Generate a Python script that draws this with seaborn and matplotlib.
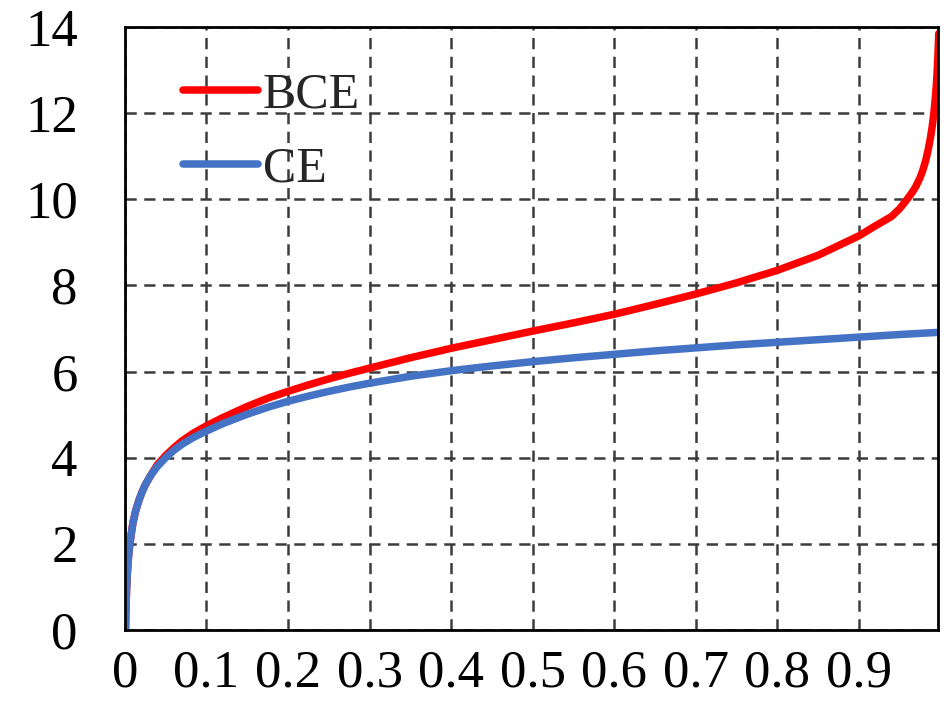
import numpy as np
import pandas as pd
import matplotlib
matplotlib.use("Agg")
import matplotlib.pyplot as plt
import seaborn as sns
from matplotlib.lines import Line2D

# ---- data ----
ce_x = [0.0008, 0.0012, 0.002, 0.003, 0.004, 0.0055, 0.0076, 0.01, 0.013,
        0.017, 0.021, 0.025, 0.032, 0.04, 0.05, 0.06, 0.07, 0.084,
        0.1, 0.12, 0.15, 0.175, 0.2, 0.225, 0.25, 0.275, 0.3, 0.35, 0.4,
        0.45, 0.5, 0.55, 0.6, 0.65, 0.7, 0.75, 0.8, 0.85, 0.9, 0.95, 0.997]
ce_y = [0.0, 0.4, 0.9, 1.3, 1.6, 1.9, 2.2, 2.5, 2.75,
        3.0, 3.2, 3.37, 3.6, 3.8, 4.0, 4.17, 4.31, 4.47,
        4.62, 4.79, 5.01, 5.17, 5.31, 5.43, 5.54, 5.64, 5.73, 5.89, 6.02,
        6.13, 6.23, 6.32, 6.4, 6.48, 6.55, 6.62, 6.68, 6.74, 6.8, 6.86, 6.91]

bce_x = [0.0008, 0.0012, 0.002, 0.003, 0.004, 0.0055, 0.0076, 0.01, 0.013,
         0.017, 0.021, 0.025, 0.032, 0.04, 0.05, 0.06, 0.07, 0.084,
         0.1, 0.12, 0.15, 0.175, 0.2, 0.225, 0.25, 0.275, 0.3, 0.35, 0.4,
         0.45, 0.5, 0.55, 0.6, 0.65, 0.7, 0.75, 0.8, 0.85, 0.9, 0.92, 0.94,
         0.95, 0.96, 0.965, 0.97, 0.975, 0.978, 0.982, 0.985, 0.988, 0.99,
         0.992, 0.9935, 0.995, 0.996, 0.997, 0.998]
bce_y = [0.0, 0.4, 0.9, 1.3, 1.6, 1.9, 2.2, 2.5, 2.75,
         3.0, 3.2, 3.37, 3.6, 3.84, 4.05, 4.23, 4.39, 4.57,
         4.74, 4.93, 5.19, 5.38, 5.54, 5.69, 5.83, 5.96, 6.08, 6.32, 6.54,
         6.74, 6.94, 7.13, 7.33, 7.56, 7.8, 8.06, 8.35, 8.7, 9.15, 9.38, 9.6,
         9.78, 10.02, 10.15, 10.3, 10.5, 10.65, 10.9, 11.15, 11.45, 11.7,
         12.0, 12.3, 12.65, 12.95, 13.35, 13.85]

series_names = ["BCE", "CE"]
series_colors = ["#ff0000", "#4472c4"]
x_ticks = [0, 0.1, 0.2, 0.3, 0.4, 0.5, 0.6, 0.7, 0.8, 0.9]
x_tick_labels = ["0", "0.1", "0.2", "0.3", "0.4", "0.5", "0.6", "0.7", "0.8", "0.9"]
y_ticks = [0, 2, 4, 6, 8, 10, 12, 14]
y_tick_labels = ["0", "2", "4", "6", "8", "10", "12", "14"]

df = pd.concat([
    pd.DataFrame({"x": bce_x, "y": bce_y, "loss": "BCE"}),
    pd.DataFrame({"x": ce_x, "y": ce_y, "loss": "CE"}),
], ignore_index=True)

sns.set_style("white")
plt.rcParams["font.family"] = ["Liberation Serif", "DejaVu Serif"]

fig = plt.figure(figsize=(9.46, 7.05), dpi=100)
ax = fig.add_axes([0.132, 0.1064, 0.8595, 0.8553])

sns.lineplot(data=df, x="x", y="y", hue="loss", hue_order=series_names,
             palette=dict(zip(series_names, series_colors)),
             linewidth=5.4, ax=ax, legend=False, estimator=None,
             solid_capstyle="round", solid_joinstyle="round")

ax.set_xlim(0, 0.997)
ax.set_ylim(0, 14)
ax.set_xticks(x_ticks)
ax.set_xticklabels(x_tick_labels)
ax.set_yticks(y_ticks)
ax.set_yticklabels(y_tick_labels)
ax.set_xlabel("")
ax.set_ylabel("")

ax.grid(True, which="major", color="#3c3c3c", linestyle=(0, (4.5, 3)),
        linewidth=1.8)
ax.set_axisbelow(True)
for s in ax.spines.values():
    s.set_color("black")
    s.set_linewidth(2.0)
    s.set_visible(True)

ax.tick_params(axis="both", direction="in", length=7, width=1.8,
               labelsize=38, colors="black")
ax.tick_params(axis="x", pad=14)
ax.tick_params(axis="y", pad=34)

handles = [Line2D([0], [0], color=c, lw=5.4, solid_capstyle="round")
           for c in series_colors]
leg = ax.legend(handles, series_names, loc="upper left",
                bbox_to_anchor=(0.071, 0.925), frameon=False,
                fontsize=36, handlelength=1.5, handletextpad=0.1,
                labelspacing=0.55, borderpad=0, borderaxespad=0)

fig.savefig("out.png", dpi=100)
